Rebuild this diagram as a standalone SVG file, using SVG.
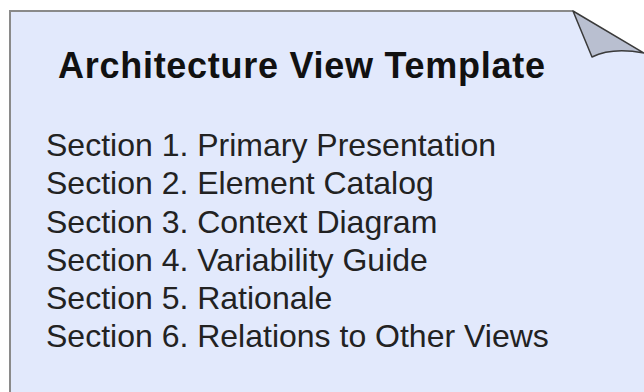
<svg xmlns="http://www.w3.org/2000/svg" width="644" height="392" viewBox="0 0 644 392">
<style>
.title{font-family:"Liberation Sans",Arial,sans-serif;font-weight:bold;font-size:36px;fill:#111}
.sec{font-family:"Liberation Sans",Arial,sans-serif;font-size:32px;fill:#222}
</style>
<rect width="644" height="392" fill="#fff"/>
<g id="page">
<path d="M10,11 L573,11 L644,53 L644,392 L10,392 Z" fill="#E2E9FC"/>
<path d="M10,392 L10,11 L573,11" fill="none" stroke="#8a8a8a" stroke-width="2"/>
<path d="M573,11 L592,57 Q612,47 644,53 Z" fill="#B9BFD0" stroke="#3a3a3a" stroke-width="1.5" stroke-linejoin="round"/>
<text class="title" x="58" y="78" textLength="487" lengthAdjust="spacing">Architecture View Template</text>
<text class="sec" x="46" y="156">Section 1. Primary Presentation</text>
<text class="sec" x="46" y="194">Section 2. Element Catalog</text>
<text class="sec" x="46" y="232.5">Section 3. Context Diagram</text>
<text class="sec" x="46" y="270.5">Section 4. Variability Guide</text>
<text class="sec" x="46" y="309">Section 5. Rationale</text>
<text class="sec" x="46" y="347">Section 6. Relations to Other Views</text>
</g>
</svg>
